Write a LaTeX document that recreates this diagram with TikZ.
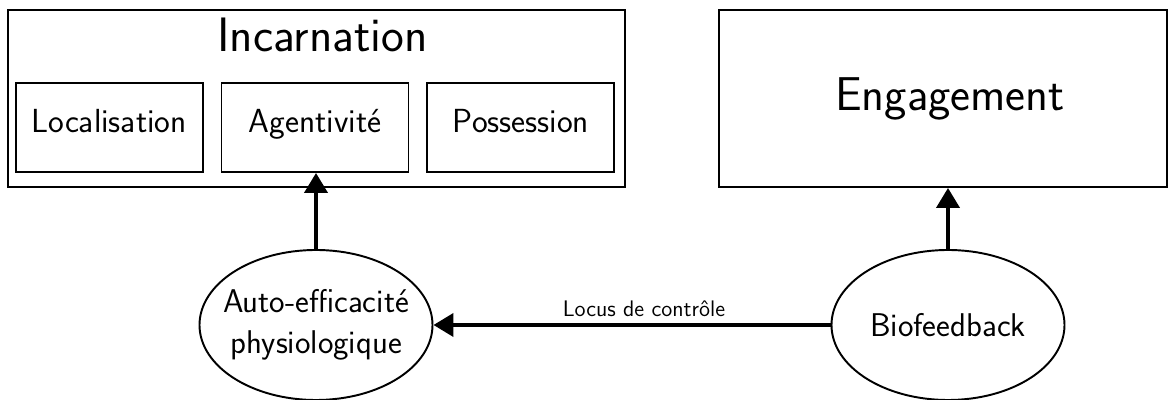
\documentclass[tikz,border=0pt]{standalone}
\usepackage{fontspec}
\usepackage{tikz}
\usetikzlibrary{shapes,arrows,positioning,calc,arrows.meta}

\begin{document}
\begin{tikzpicture}[font=\sffamily,
    box/.style={draw, line width=1.1pt, inner sep=0pt},
    subbox/.style={box, minimum width=3.74cm, minimum height=1.78cm, text height=0.75em, text depth=0.22em, font=\sffamily\fontsize{19}{23}\selectfont},
    blob/.style={draw, ellipse, line width=1.1pt, minimum width=4.66cm, minimum height=3cm, inner xsep=-0.3cm, inner ysep=0pt, align=center, font=\sffamily\fontsize{18.7}{23.5}\selectfont},
    link/.style={line width=2.2pt, -{Triangle[length=0.4cm, width=0.46cm]}}]
    \useasboundingbox (0,0) rectangle (23.52,8);

    % Incarnation
    \node[box, minimum width=12.34cm, minimum height=3.54cm] (incarn) at (6.33, 6.03) {};
    \node[font=\sffamily\fontsize{27.5}{32}\selectfont] (incarntitle) at (6.45, 7.3) {Incarnation};
    \node[subbox] (agent) at (6.30, 5.45) {Agentivité};
    \node[subbox, left=0.34cm of agent] (local) {Localisation};
    \node[subbox, right=0.34cm of agent] (possess) {Possession};

    % Engagement
    \node[box, minimum width=8.96cm, minimum height=3.54cm] (engage) at (18.86, 6.03) {};
    \node[font=\sffamily\fontsize{27}{32}\selectfont] (engagetitle) at (19.0, 6.03) {Engagement};

    % Ellipses
    \node[blob] (auto) at (6.32, 1.5) {Auto-efficacité\\physiologique};
    \node[blob] (biofb) at (18.96, 1.5) {Biofeedback};

    % Arrows
    \draw[link] (auto.north) -- (auto.north |- agent.south);
    \draw[link] (biofb.north) -- (biofb.north |- engage.south);
    \draw[link] (biofb.west) -- node[above, pos=0.47, font=\sffamily\fontsize{12.8}{15}\selectfont] {Locus de contrôle} (auto.east);
\end{tikzpicture}
\end{document}
